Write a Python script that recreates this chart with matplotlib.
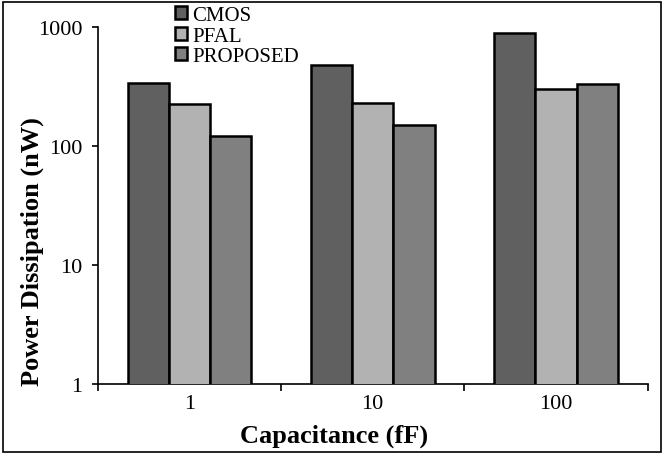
import numpy as np
import matplotlib
matplotlib.use("Agg")
import matplotlib.pyplot as plt
from matplotlib.patches import Rectangle

plt.rcParams['font.family'] = ['Liberation Serif', 'DejaVu Serif']

categories = ['1', '10', '100']
series_names = ['CMOS', 'PFAL', 'PROPOSED']
cmos = [340, 480, 880]
pfal = [225, 230, 300]
proposed = [120, 150, 330]
colors = ['#606060', '#b2b2b2', '#808080']

fig = plt.figure(figsize=(6.65, 4.56), dpi=100)
ax = fig.add_axes([0.147, 0.156, 0.827, 0.783])

x = np.arange(len(categories))
w = 0.225
for i, (vals, name, c) in enumerate(zip([cmos, pfal, proposed], series_names, colors)):
    ax.bar(x + (i - 1) * w, vals, w, color=c, edgecolor='black', linewidth=1.8,
           label=name, zorder=3)

ax.set_yscale('log')
ax.set_ylim(1, 1000)
ax.set_yticks([1, 10, 100, 1000])
ax.set_yticklabels(['1', '10', '100', '1000'])
ax.minorticks_off()
ax.set_xlim(-0.5, 2.5)
ax.set_xticks([-0.5, 0.5, 1.5, 2.5])
ax.set_xticklabels([])
ax.set_xticks(x, minor=True)
ax.set_xticklabels(categories, minor=True)
ax.tick_params(axis='x', which='minor', length=0, pad=7, labelsize=16)
ax.tick_params(axis='x', which='major', length=5, width=1.2, direction='out')
ax.tick_params(axis='y', length=4, width=1.2, labelsize=16, pad=7)

for s in ['top', 'right']:
    ax.spines[s].set_visible(False)
for s in ['left', 'bottom']:
    ax.spines[s].set_linewidth(1.2)

ax.set_ylabel('Power Dissipation (nW)', fontsize=19, fontweight='bold')
ax.yaxis.set_label_coords(-0.097, 0.374)
ax.set_xlabel('Capacitance (fF)', fontsize=19, fontweight='bold')
ax.xaxis.set_label_coords(0.43, -0.112)

# legend sits above the plot area, top left
leg = fig.legend(loc='upper left', bbox_to_anchor=(0.263, 0.985), frameon=False,
                 fontsize=15, handlelength=0.6, handleheight=0.6, handletextpad=0.25,
                 labelspacing=0.08, borderpad=0, borderaxespad=0)
for h in leg.legend_handles:
    h.set_linewidth(1.8)

fig.patches.append(Rectangle((0.004, 0.006), 0.99, 0.988, transform=fig.transFigure,
                             fill=False, edgecolor='black', linewidth=1.2))

fig.savefig('out.png', dpi=100)
